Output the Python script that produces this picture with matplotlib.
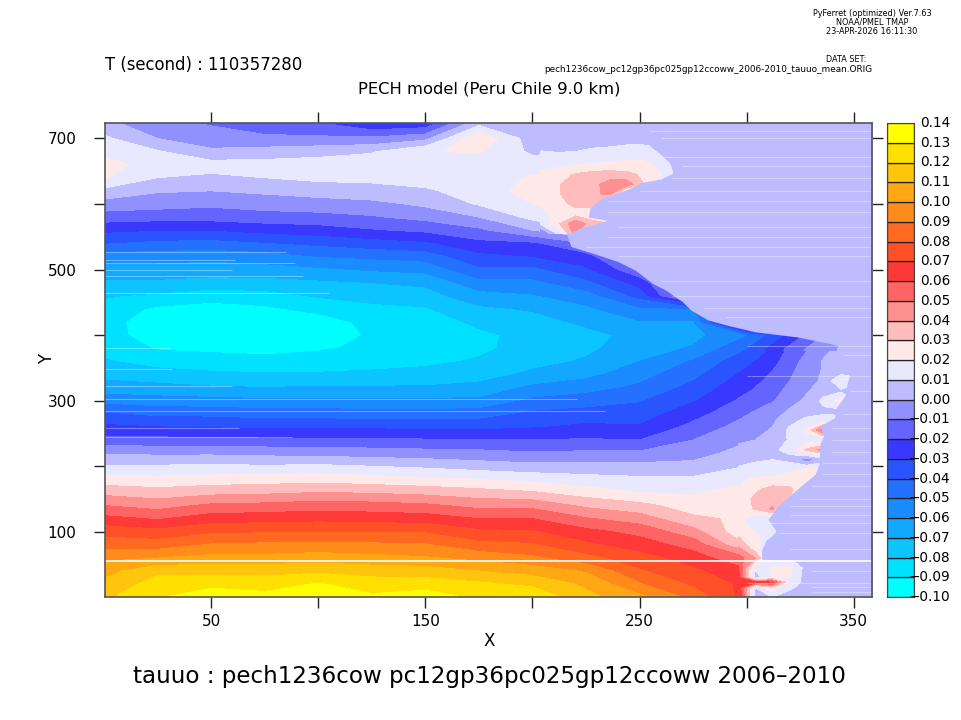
import numpy as np
import matplotlib
matplotlib.use("Agg")
import matplotlib.pyplot as plt

levels = [-0.10, -0.09, -0.08, -0.07, -0.06, -0.05, -0.04, -0.03, -0.02, -0.01, 0.00, 0.01,
          0.02, 0.03, 0.04, 0.05, 0.06, 0.07, 0.08, 0.09, 0.10, 0.11, 0.12, 0.13, 0.14]
colors = ["#00ffff", "#00e0ff", "#0cc4ff", "#12a8ff", "#1a8cff", "#2470ff", "#2a54ff", "#3838ff",
          "#6464ff", "#9090ff", "#bcbcff", "#e8e8ff", "#ffe8e8", "#ffbcbc", "#ff9090", "#ff6464",
          "#ff3838", "#ff5028", "#ff6a20", "#ff8c1a", "#ffa814", "#ffc40c", "#ffe000", "#ffff00"]
key_labels = ["-0.10", "-0.09", "-0.08", "-0.07", "-0.06", "-0.05", "-0.04", "-0.03", "-0.02", "-0.01",
              "0.00", "0.01", "0.02", "0.03", "0.04", "0.05", "0.06", "0.07", "0.08", "0.09",
              "0.10", "0.11", "0.12", "0.13", "0.14"]

# rows of the field (Y)
y_rows = [0, 20, 40, 60, 80, 100, 120, 140, 160, 180, 200, 220, 240, 260, 280, 300, 320, 340, 360,
          380, 400, 420, 440, 460, 480, 500, 520, 540, 560, 580, 600, 620, 640, 660, 680, 700, 724]

# tauuo, one list per X column
col_0 = [.118, .113, .106, .098, .086, .076, .063, .05, .037, .024, .011, -.001, -.017, -.028, -.039, -.054, -.066,
         -.073, -.079, -.083, -.085, -.086, -.084, -.079, -.072, -.064, -.055, -.04, -.028, -.015, -.004, .007,
         .021, .024, .017, .012, .003]
col_25 = [.129, .124, .118, .10, .085, .073, .059, .046, .034, .023, .011, -.002, -.017, -.03, -.043, -.056, -.067,
          -.076, -.084, -.091, -.096, -.096, -.092, -.082, -.072, -.064, -.056, -.043, -.03, -.016, -.006, .001,
          .01, .015, .011, 0, -.008]
col_50 = [.137, .127, .117, .103, .091, .078, .065, .052, .037, .024, .012, -.002, -.017, -.031, -.043, -.057, -.069,
          -.078, -.086, -.092, -.096, -.097, -.094, -.086, -.074, -.065, -.057, -.044, -.03, -.016, -.008, 0,
          .008, .014, .002, -.006, -.011]
col_75 = [.134, .125, .117, .103, .092, .079, .066, .053, .038, .025, .011, -.003, -.018, -.032, -.045, -.058, -.07,
          -.079, -.087, -.093, -.097, -.096, -.092, -.084, -.074, -.064, -.055, -.041, -.027, -.014, -.006, .002,
          .01, .014, .004, -.008, -.016]
col_100 = [.138, .131, .118, .105, .093, .079, .067, .055, .04, .026, .012, -.004, -.018, -.032, -.045, -.058, -.069,
           -.079, -.085, -.0915, -.097, -.095, -.087, -.079, -.072, -.062, -.05, -.038, -.025, -.013, -.005, .005,
           .012, .015, .006, -.008, -.02]
col_125 = [.132, .125, .116, .103, .092, .079, .066, .054, .039, .024, .01, -.005, -.018, -.032, -.046, -.058, -.069,
           -.078, -.084, -.0875, -.0885, -.087, -.083, -.076, -.07, -.059, -.048, -.035, -.021, -.011, -.003, .007,
           .012, .016, .009, -.008, -.03]
col_150 = [.136, .125, .115, .101, .091, .079, .065, .052, .037, .022, .008, -.006, -.019, -.033, -.046, -.058, -.069,
           -.077, -.082, -.085, -.087, -.085, -.081, -.074, -.068, -.057, -.046, -.032, -.018, -.007, .002, .009,
           .013, .017, .0195, -.003, -.028]
col_175 = [.128, .122, .11, .097, .083, .072, .06, .047, .034, .02, .005, -.007, -.019, -.033, -.045, -.058, -.067,
           -.074, -.079, -.082, -.082, -.078, -.072, -.064, -.054, -.042, -.033, -.023, -.012, 0, .011, .013,
           .015, .013, .021, .029, .006]
col_200 = [.128, .118, .106, .092, .081, .071, .06, .047, .031, .017, .003, -.009, -.02, -.031, -.038, -.048, -.058,
           -.068, -.073, -.076, -.077, -.074, -.069, -.061, -.053, -.043, -.03, -.022, 0, .013, .02, .025,
           .021, .015, .008, .004, .003]
col_225 = [.113, .108, .099, .083, .072, .063, .051, .038, .025, .014, .003, -.008, -.019, -.028, -.036, -.045, -.054,
           -.063, -.069, -.072, -.073, -.068, -.062, -.055, -.043, -.032, -.024, -.01, .01, .02, .025, .028,
           .026, .018, .009, .003, .004]
col_250 = [.103, .091, .081, .074, .065, .057, .045, .033, .02, .012, .003, -.008, -.02, -.029, -.035, -.041, -.048,
           -.054, -.06, -.065, -.067, -.061, -.052, -.037, -.026, -.012, -.002, .005, .005, .005, .01, .03,
           .028, .021, .012, .005, .004]
col_275 = [.087, .078, .072, .065, .056, .044, .032, .025, .019, .012, .003, -.004, -.01, -.017, -.024, -.031, -.037,
           -.043, -.049, -.059, -.063, -.061, -.05, .005, .005, .005, .005, .005, .005, .005, .005, .005,
           .005, .005, .005, .005, .005]
col_300 = [.065, .067, .062, .051, .03, .021, .028, .029, .024, .018, .01, .004, -.001, -.005, -.011, -.017, -.022,
           -.027, -.033, -.041, -.051, .005, .005, .005, .005, .005, .005, .005, .005, .005, .005, .005,
           .005, .005, .005, .005, .005]
col_325 = [.005, .005, .005, .005, .005, .005, .005, .005, .02, .025, .017, .014, .012, .021, .022, .01, .004,
           -.003, -.008, -.012, -.022, .005, .005, .005, .005, .005, .005, .005, .005, .005, .005, .005,
           .005, .005, .005, .005, .005]
col_350 = [.005] * 37
col_359 = [.005] * 37
x_cols = [0, 25, 50, 75, 100, 125, 150, 175, 200, 225, 250, 275, 300, 325, 350, 359]

# finer read of the warm lobes on the northern shore
north_x = [204, 212, 220, 228, 236, 244, 252, 260, 268]
north_y = [555, 570, 585, 600, 615, 630, 645, 660, 675, 690]
north_555 = [-.012, .012, .045, .005, .005, .005, .005, .005, .005]
north_570 = [.013, .028, .048, .035, .03, .005, .005, .005, .005]
north_585 = [.017, .023, .025, .021, .005, .005, .005, .005, .005]
north_600 = [.021, .026, .033, .036, .005, .005, .005, .005, .005]
north_615 = [.023, .029, .036, .038, .042, .005, .005, .005, .005]
north_630 = [.024, .029, .036, .037, .044, .046, .03, .005, .005]
north_645 = [.022, .025, .031, .034, .035, .033, .028, .021, .005]
north_660 = [.017, .018, .02, .021, .022, .023, .023, .017, .005]
north_675 = [.012, .011, .011, .012, .014, .016, .016, .012, .005]
north_690 = [.007, .007, .008, .009, .009, .01, .01, .009, .005]

# finer read of the small lobes on the southern shore
south_x = [296, 304, 312, 320, 328, 336, 344, 352]
south_y = [0, 15, 23, 30, 45, 60, 75, 90, 105, 120, 135, 150, 165, 180, 195, 210, 225, 240, 255, 270, 285,
           300, 315, 330, 345, 360, 375]
south_0 = [.075, .005, .01, .005, .005, .005, .005, .005]
south_15 = [.068, .01, .028, .012, .005, .005, .005, .005]
south_23 = [.066, .065, .062, .02, .005, .005, .005, .005]
south_30 = [.065, .005, .02, .02, .005, .005, .005, .005]
south_45 = [.062, .012, .021, .024, .005, .005, .005, .005]
south_60 = [.055, .04, .005, .01, .005, .005, .005, .005]
south_75 = [.042, .024, .005, .005, .005, .005, .005, .005]
south_90 = [.031, .024, .01, .005, .005, .005, .005, .005]
south_105 = [.026, .017, .012, .005, .005, .005, .005, .005]
south_120 = [.023, .013, .013, .005, .005, .005, .005, .005]
south_135 = [.024, .031, .042, .02, .005, .005, .005, .005]
south_150 = [.024, .032, .035, .03, .005, .005, .005, .005]
south_165 = [.02, .028, .034, .032, .022, .005, .005, .005]
south_180 = [.018, .022, .022, .024, .024, .021, .005, .005]
south_195 = [.011, .013, .015, .018, .022, .023, .005, .005]
south_210 = [.008, .009, .01, .007, -.006, .005, .005, .005]
south_225 = [.003, .005, .008, .013, .032, .045, .005, .005]
south_240 = [-.002, 0, .004, .011, .015, .012, .005, .005]
south_255 = [-.006, -.003, .001, .012, .022, .055, .02, .005]
south_270 = [-.01, -.006, -.002, .007, .012, .013, .012, .005]
south_285 = [-.015, -.01, -.005, .001, .006, .008, .008, .005]
south_300 = [-.019, -.015, -.011, -.004, .002, .013, .024, .005]
south_315 = [-.023, -.019, -.014, -.007, -.001, .005, .008, .005]
south_330 = [-.027, -.022, -.017, -.01, -.004, .002, .02, .012]
south_345 = [-.031, -.026, -.02, -.012, -.005, .001, .005, .006]
south_360 = [-.036, -.03, -.024, -.014, -.007, .001, .005, .005]
south_375 = [-.042, -.035, -.028, -.017, -.01, -.002, .004, .005]

# edge of the land, read along the shore
coast_y = [0, 56, 58, 72, 87, 100, 119, 141, 152, 169, 188, 205, 218, 232, 247, 261, 274, 290, 308, 328, 348,
           363, 382, 387, 397, 405, 415, 423, 438, 451, 469, 479, 499, 512, 524, 535, 553, 563, 575, 580, 595,
           608, 623, 633, 638, 648, 663, 678, 688, 724]
coast_x = [352, 352, 307, 307, 309, 314, 310, 315, 319, 325, 332, 334, 334, 334, 336, 334, 341, 342, 346, 347,
           349, 351, 345, 339, 324, 304, 291, 282, 274, 270, 262, 256, 248, 240, 229, 218, 216, 222, 235, 226,
           227, 232, 245, 251, 260, 266, 264, 259, 255, 252]

# missing rows that show as pale streaks over the land: Y and where they start in X
streak_y = [8, 16, 22, 40, 74, 98, 114, 125, 140, 150, 170, 188, 205, 222, 240, 258, 279, 314, 338, 370, 384, 427,
            441, 459, 482, 520, 535, 550, 565, 588, 604, 620, 640, 658, 672, 700, 712]
streak_x = [330, 330, 300, 330, 320, 315, 310, 320, 320, 325, 330, 335, 335, 340, 340, 340, 345, 348, 300, 345, 300,
            290, 280, 265, 260, 240, 225, 235, 240, 235, 235, 250, 265, 270, 260, 260, 255]
# the same over the open sea on the left: Y and where they end in X
left_streak_y = [526, 515, 510, 500, 490, 464, 380, 348, 322, 302, 284, 258, 244]
left_streak_x = [85, 61, 89, 60, 93, 105, 31, 32, 60, 221, 234, 63, 88]
solid_line_y = 55

fig = plt.figure(figsize=(9.61, 7.2), dpi=100)
ax = fig.add_axes([105 / 961, 1 - 597 / 720, 767 / 961, 474 / 720])

z = np.array([col_0, col_25, col_50, col_75, col_100, col_125, col_150, col_175, col_200, col_225,
              col_250, col_275, col_300, col_325, col_350, col_359]).T
ax.contourf(x_cols, y_rows, z, levels=levels, colors=colors, antialiased=False)
z_north = [north_555, north_570, north_585, north_600, north_615, north_630, north_645, north_660, north_675,
           north_690]
ax.contourf(north_x, north_y, z_north, levels=levels, colors=colors, antialiased=False, zorder=1.5)
z_south = [south_0, south_15, south_23, south_30, south_45, south_60, south_75, south_90, south_105, south_120,
           south_135, south_150, south_165, south_180, south_195, south_210, south_225, south_240, south_255,
           south_270, south_285, south_300, south_315, south_330, south_345, south_360, south_375]
ax.contourf(south_x, south_y, z_south, levels=levels, colors=colors, antialiased=False, zorder=1.5)
ax.fill_betweenx(coast_y, coast_x, 359, color="#bcbcff", lw=0, zorder=2)
ax.hlines(streak_y, streak_x, 359, color="white", lw=0.8, alpha=0.35, zorder=3)
ax.hlines(left_streak_y, 0.5, left_streak_x, color="white", lw=0.8, alpha=0.35, zorder=3)
ax.axhline(solid_line_y, color="white", lw=1.2, zorder=3)

ax.set_xlim(0.5, 358.5)
ax.set_ylim(0.5, 723.5)
ax.set_xticks([50, 100, 150, 200, 250, 300, 350])
ax.set_xticklabels(["50", "", "150", "", "250", "", "350"])
ax.set_yticks([100, 200, 300, 400, 500, 600, 700])
ax.set_yticklabels(["100", "", "300", "", "500", "", "700"])
ax.tick_params(top=True, right=True, length=8, width=1, labelsize=11, pad=4, color="#222222")
ax.tick_params(axis="y", pad=12.6)
for s in ax.spines.values():
    s.set_color("#555555")
    s.set_linewidth(1.2)
    s.set_zorder(5)

# colour key
cax = fig.add_axes([887 / 961, 1 - 597 / 720, 26.5 / 961, 474 / 720])
for i in range(len(colors)):
    cax.barh(levels[i], 1, height=levels[i + 1] - levels[i], align="edge", color=colors[i],
             edgecolor="#222222", linewidth=0.9)
cax.set_xlim(0, 1)
cax.set_ylim(levels[0], levels[-1])
cax.set_xticks([])
cax.set_yticks([])
for s in cax.spines.values():
    s.set_color("#444444")
for lev, lab in zip(levels, key_labels):
    cax.text(1 + 37 / 26.5, lev, lab.replace("-", "\u2212"), fontsize=9.8, ha="right", va="center", clip_on=False)

fig.text(489 / 961, 1 - 641 / 720, "X", fontsize=12, va="center", ha="center")
fig.text(47 / 961, 1 - 359 / 720, "Y", fontsize=12, va="center", ha="center", rotation=90)
fig.text(105 / 961, 1 - 65 / 720, "T (second) : 110357280", fontsize=11.9, va="center", ha="left")
fig.text(489 / 961, 1 - 89 / 720, "PECH model (Peru Chile 9.0 km)", fontsize=11.8, va="center", ha="center")
fig.text(489 / 961, 1 - 677 / 720, "tauuo : pech1236cow pc12gp36pc025gp12ccoww 2006\u20132010", fontsize=16.6,
         va="center", ha="center")
fig.text(872 / 961, 1 - 13 / 720, "PyFerret (optimized) Ver.7.63", fontsize=5.85, va="center", ha="center")
fig.text(872 / 961, 1 - 22 / 720, "NOAA/PMEL TMAP", fontsize=5.85, va="center", ha="center")
fig.text(872 / 961, 1 - 32 / 720, "23-APR-2026 16:11:30", fontsize=5.85, va="center", ha="center")
fig.text(846 / 961, 1 - 59 / 720, "DATA SET:", fontsize=5.85, va="center", ha="center")
fig.text(872 / 961, 1 - 69 / 720, "pech1236cow_pc12gp36pc025gp12ccoww_2006-2010_tauuo_mean.ORIG", fontsize=6.4,
         va="center", ha="right")

fig.savefig("out.png", dpi=100)
